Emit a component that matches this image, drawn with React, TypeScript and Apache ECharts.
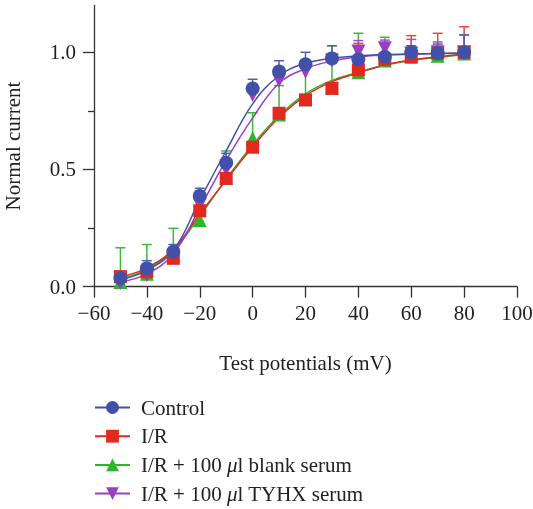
import React, { useEffect, useRef } from "react";
import * as echarts from "echarts";

const voltages = [-50, -40, -30, -20, -10, 0, 10, 20, 30, 40, 50, 60, 70, 80];

const controlMean = [0.036, 0.078, 0.149, 0.387, 0.529, 0.845, 0.918, 0.949, 0.974, 0.97, 0.981, 1.0, 0.996, 1.0];
const controlErr = [0.01, 0.033, 0.031, 0.033, 0.04, 0.04, 0.046, 0.051, 0.054, 0.054, 0.054, 0.028, 0.039, 0.074];
const controlFit = [0.03, 0.07, 0.155, 0.37, 0.58, 0.78, 0.9, 0.953, 0.975, 0.985, 0.99, 0.993, 0.995, 0.996];

const irMean = [0.043, 0.064, 0.121, 0.324, 0.462, 0.595, 0.74, 0.797, 0.846, 0.925, 0.97, 0.979, 0.996, 1.0];
const irErr = [0.01, 0.01, 0.01, 0.01, 0.02, 0.02, 0.02, 0.02, 0.02, 0.113, 0.065, 0.092, 0.085, 0.109];
const irFit = [0.04, 0.08, 0.16, 0.31, 0.455, 0.597, 0.722, 0.815, 0.875, 0.912, 0.946, 0.967, 0.981, 0.993];

const blankMean = [0.02, 0.055, 0.135, 0.285, 0.465, 0.633, 0.735, 0.8, 0.85, 0.915, 0.965, 0.985, 0.985, 0.995];
const blankErr = [0.146, 0.125, 0.114, 0.125, 0.114, 0.109, 0.123, 0.16, 0.178, 0.166, 0.099, 0.02, 0.02, 0.02];
const blankFit = [0.03, 0.075, 0.155, 0.3, 0.46, 0.605, 0.73, 0.823, 0.88, 0.915, 0.945, 0.965, 0.978, 0.99];

const tyhxMean = [0.016, 0.05, 0.13, 0.35, 0.5, 0.818, 0.879, 0.917, 0.965, 1.003, 1.017, 0.995, 1.0, 1.0];
const tyhxErr = [0.01, 0.01, 0.02, 0.02, 0.02, 0.02, 0.02, 0.02, 0.02, 0.047, 0.035, 0.06, 0.044, 0.074];
const tyhxFit = [0.02, 0.055, 0.14, 0.335, 0.54, 0.72, 0.868, 0.93, 0.963, 0.98, 0.988, 0.992, 0.995, 0.996];

const seriesNames = ["Control", "I/R", "I/R + 100 μl blank serum", "I/R + 100 μl TYHX serum"];
const xTicks = [-60, -40, -20, 0, 20, 40, 60, 80, 100];
const yMajorTicks = [0, 0.5, 1.0];
const yMinorTicks = [0.25, 0.75];

const FONT = "Liberation Serif";
const FS = 21;
const TEXT = "#222";
const AXIS = "#333";

const COLORS = ["#4150A8", "#E2291D", "#2FB52A", "#9B3FC0"];
const SYMBOLS = ["circle", "rect", "triangle", "path://M0,0L10,0L5,9Z"];
const SIZES = [14, 13, 14, 14];

function errorSeries(name: string, means: number[], errs: number[], color: string, z: number) {
  return {
    name,
    type: "custom",
    z,
    clip: false,
    encode: { x: 0, y: 1 },
    data: voltages.map((v, i) => [v, means[i], errs[i]]),
    renderItem: (_p: any, api: any) => {
      const x = api.value(0);
      const y = api.value(1);
      const e = api.value(2);
      const p0 = api.coord([x, y]);
      const p1 = api.coord([x, y + e]);
      return {
        type: "group",
        children: [
          { type: "line", shape: { x1: p0[0], y1: p0[1], x2: p1[0], y2: p1[1] }, style: { stroke: color, lineWidth: 1.5 } },
          { type: "line", shape: { x1: p1[0] - 5, y1: p1[1], x2: p1[0] + 5, y2: p1[1] }, style: { stroke: color, lineWidth: 1.5 } },
        ],
      };
    },
  };
}

function fitSeries(idx: number, fit: number[]) {
  return {
    name: seriesNames[idx],
    type: "line",
    smooth: 0.4,
    showSymbol: false,
    symbol: SYMBOLS[idx],
    z: 2,
    data: voltages.map((v, i) => [v, fit[i]]),
    lineStyle: { color: COLORS[idx], width: 1.5 },
    itemStyle: { color: COLORS[idx] },
  };
}

function pointSeries(idx: number, means: number[], z: number) {
  return {
    name: seriesNames[idx] + " points",
    type: "scatter",
    symbol: SYMBOLS[idx],
    symbolSize: SIZES[idx],
    z,
    data: voltages.map((v, i) => [v, means[i]]),
    itemStyle: { color: COLORS[idx], opacity: 1 },
  };
}

export default function App() {
  const ref = useRef<HTMLDivElement>(null);
  useEffect(() => {
    if (!ref.current) return;
    const chart = echarts.init(ref.current, null, { renderer: "svg" });
    const option: any = {
      animation: false,
      textStyle: { fontFamily: FONT, color: TEXT },
      grid: { left: 94, right: 16, top: 5.4, bottom: 222.3, containLabel: false, outerBoundsMode: "none" },
      xAxis: {
        type: "value",
        min: -60,
        max: 100,
        interval: 20,
        name: "Test potentials (mV)",
        nameLocation: "middle",
        nameGap: 66,
        nameTextStyle: { fontFamily: FONT, fontSize: FS, color: TEXT },
        axisLine: { show: true, onZero: false, lineStyle: { color: AXIS, width: 1.3 } },
        axisTick: { show: true, length: 11, lineStyle: { color: AXIS, width: 1.3 } },
        axisLabel: {
          margin: 16,
          fontFamily: FONT,
          fontSize: FS,
          color: TEXT,
          customValues: xTicks,
          formatter: (v: number) => (v < 0 ? "\u2212" + Math.abs(v) : String(v)),
        },
        splitLine: { show: false },
      },
      yAxis: [
        {
          type: "value",
          min: 0,
          max: 1.2,
          position: "left",
          axisLine: { show: true, onZero: false, lineStyle: { color: AXIS, width: 1.3 } },
          axisTick: { show: true, length: 11, customValues: yMajorTicks, lineStyle: { color: AXIS, width: 1.3 } },
          axisLabel: {
            margin: 18,
            fontFamily: FONT,
            fontSize: FS,
            color: TEXT,
            customValues: yMajorTicks,
            formatter: (v: number) => v.toFixed(1),
          },
          splitLine: { show: false },
        },
        {
          type: "value",
          min: 0,
          max: 1.2,
          position: "left",
          axisLine: { show: false, onZero: false },
          axisTick: { show: true, length: 6, customValues: yMinorTicks, lineStyle: { color: AXIS, width: 1.3 } },
          axisLabel: { show: false },
          splitLine: { show: false },
        },
      ],
      legend: {
        orient: "vertical",
        left: 94,
        top: 397,
        padding: 0,
        itemWidth: 35,
        itemHeight: 16,
        itemGap: 7.7,
        data: seriesNames,
        formatter: (name: string) => name.replace("μ", "{i|μ}"),
        textStyle: {
          fontFamily: FONT,
          fontSize: FS,
          color: TEXT,
          padding: [0, 0, 0, 6],
          rich: { i: { fontFamily: FONT, fontSize: FS, fontStyle: "italic", color: TEXT } },
        },
      },
      graphic: [
        {
          type: "text",
          x: 13,
          y: 146,
          rotation: Math.PI / 2,
          style: {
            text: "Normal current",
            fontFamily: FONT,
            fontSize: FS,
            fill: TEXT,
            align: "center",
            verticalAlign: "middle",
          },
        },
      ],
      series: [
        errorSeries("err blank", blankMean, blankErr, "#3DB83A", 1),
        errorSeries("err tyhx", tyhxMean, tyhxErr, "#A050C8", 1),
        errorSeries("err ir", irMean, irErr, "#E64838", 1),
        errorSeries("err control", controlMean, controlErr, "#5060B0", 1),
        fitSeries(2, blankFit),
        fitSeries(1, irFit),
        fitSeries(3, tyhxFit),
        fitSeries(0, controlFit),
        pointSeries(2, blankMean, 3),
        pointSeries(3, tyhxMean, 4),
        pointSeries(1, irMean, 5),
        pointSeries(0, controlMean, 6),
      ],
    };
    chart.setOption(option);
    return () => chart.dispose();
  }, []);
  return <div ref={ref} style={{ position: "fixed", left: 0, top: 0, width: 533, height: 509 }} />;
}
